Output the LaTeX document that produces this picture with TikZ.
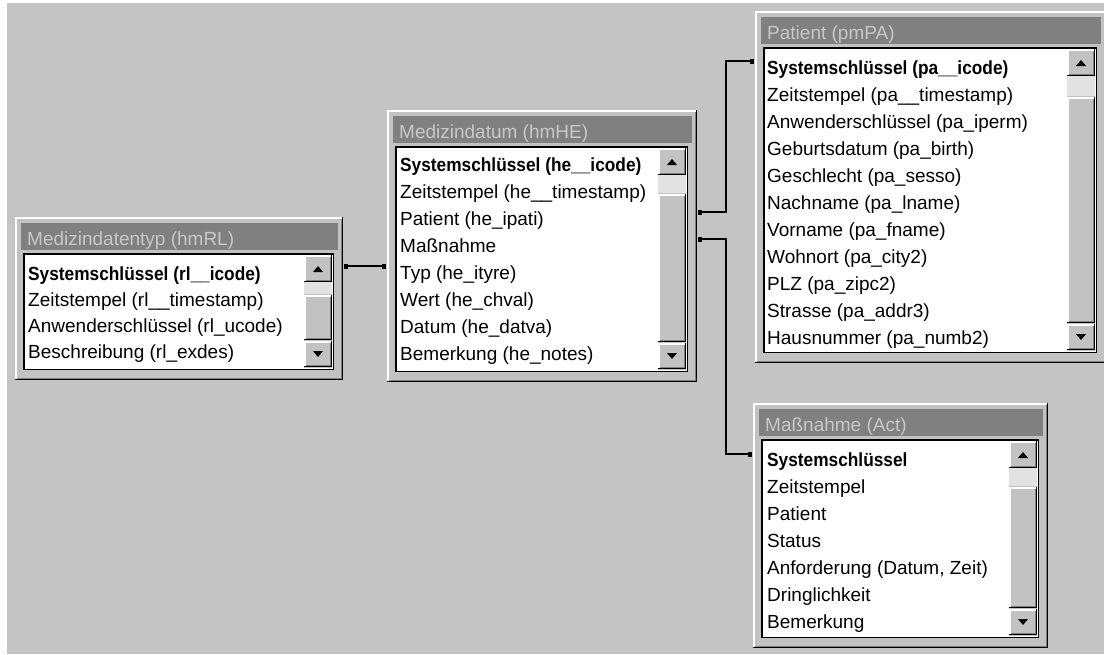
\documentclass[tikz,border=0pt]{standalone}
\usepackage{fontspec}
\usepackage{graphicx}
\setmainfont{Liberation Sans}
\usetikzlibrary{arrows.meta}
\definecolor{bg}{RGB}{196,196,196}
\definecolor{face}{RGB}{194,194,194}
\definecolor{tbar}{RGB}{128,128,128}
\definecolor{ttext}{RGB}{200,200,200}
\definecolor{chk}{RGB}{226,226,226}
\definecolor{dark}{RGB}{128,128,128}
\tikzset{
  titletext/.style={font=\fontsize{19}{22}\selectfont, text=ttext, inner sep=0pt, anchor=base west},
  rowtext/.style={font=\fontsize{19}{22}\selectfont, text=black, inner sep=0pt, anchor=base west},
  rel/.style={line width=2pt, {Square[length=4pt,width=5pt]}-{Square[length=4pt,width=5pt]}}
}
\newcommand\raisedbox[4]{%
  \fill[face] (#1,#2) rectangle (#3,#4);
  \draw[white,line width=1.5pt] (#1+0.75,#4-1.5) -- (#1+0.75,#2+0.75) -- (#3-1.5,#2+0.75);
  \draw[black,line width=1.5pt] (#1,#4-0.75) -- (#3-0.75,#4-0.75) -- (#3-0.75,#2);
  \draw[dark,line width=1pt] (#1+1.5,#4-2) -- (#3-2,#4-2) -- (#3-2,#2+1.5);
}
\newcommand\accwin[7]{%
  \raisedbox{#1}{#2}{#3}{#4}
  \fill[tbar] (#1+6,#2+6) rectangle (#3-5,#2+33);
  \node[titletext] (#7) at (#1+12,#2+28) {#6};
  \fill[white] (#1+8,#2+36) rectangle (#3-9,#4-10);
  \draw[black,line width=1.5pt] (#1+8.75,#2+36.75) rectangle (#3-9.75,#4-10.75);
  \fill[face] (#3-39,#2+38) rectangle (#3-11,#4-12);
  \fill[chk] (#3-39,#2+65) rectangle (#3-11,#2+65+#5);
  \raisedbox{#3-39}{#2+38}{#3-11}{#2+65}
  \raisedbox{#3-39}{#2+66+#5}{#3-11}{#4-40}
  \raisedbox{#3-39}{#4-39}{#3-11}{#4-13}
  \fill[black] (#3-30,#2+55) -- (#3-20,#2+55) -- (#3-25,#2+49) -- cycle;
  \fill[black] (#3-30,#4-29) -- (#3-20,#4-29) -- (#3-25,#4-23) -- cycle;
}
\newcommand\boldrow[1]{\scalebox{0.91}[1]{\bfseries #1}}
\begin{document}
\begin{tikzpicture}[x=1pt,y=-1pt]
\useasboundingbox (0,0) rectangle (1104,654);
\fill[white] (0,0) rectangle (1104,654);
\fill[bg] (7,3) rectangle (1104,654);

% windows
\accwin{15}{217}{343}{380}{12}{Medizindatentyp (hmRL)}{rlT}
\accwin{387}{110}{697}{382}{18}{Medizindatum (hmHE)}{heT}
\accwin{755}{11}{1106}{363}{20}{Patient (pmPA)}{paT}
\accwin{753}{403}{1048}{648}{18}{Maßnahme (Act)}{acT}

% rows: Medizindatentyp
\node[rowtext] (rl1) at (28,280) {\boldrow{Systemschlüssel (rl\_\_icode)}};
\node[rowtext] (rl2) at (28,306) {Zeitstempel (rl\_\_timestamp)};
\node[rowtext] (rl3) at (28,332) {Anwenderschlüssel (rl\_ucode)};
\node[rowtext] (rl4) at (28,358) {Beschreibung (rl\_exdes)};

% rows: Medizindatum
\node[rowtext] (he1) at (400,171) {\boldrow{Systemschlüssel (he\_\_icode)}};
\foreach \t [count=\i from 2] in {Zeitstempel (he\_\_timestamp),Patient (he\_ipati),Maßnahme,Typ (he\_ityre),Wert (he\_chval),Datum (he\_datva),Bemerkung (he\_notes)}
  \node[rowtext] (he\i) at (400,144+27*\i) {\t};

% rows: Patient
\node[rowtext] (pa1) at (767,74) {\boldrow{Systemschlüssel (pa\_\_icode)}};
\foreach \t [count=\i from 2] in {Zeitstempel (pa\_\_timestamp),Anwenderschlüssel (pa\_iperm),Geburtsdatum (pa\_birth),Geschlecht (pa\_sesso),Nachname (pa\_lname),Vorname (pa\_fname),Wohnort (pa\_city2),PLZ (pa\_zipc2),Strasse (pa\_addr3),Hausnummer (pa\_numb2)}
  \node[rowtext] (pa\i) at (767,47+27*\i) {\t};

% rows: Massnahme
\node[rowtext] (ac1) at (767,466) {\boldrow{Systemschlüssel}};
\foreach \t [count=\i from 2] in {Zeitstempel,Patient,Status,{Anforderung (Datum, Zeit)},Dringlichkeit,Bemerkung}
  \node[rowtext] (ac\i) at (767,439+27*\i) {\t};

% connectors
\coordinate (rlE) at (344,266);
\coordinate (heW) at (386,266);
\coordinate (heE1) at (698,212);
\coordinate (heE2) at (698,239);
\coordinate (paW) at (754,61);
\coordinate (acW) at (752,454);
\draw[rel] (rlE) -- (heW);
\draw[rel] (heE1) -- ++(28,0) |- (paW);
\draw[rel] (heE2) -- ++(28,0) |- (acW);
\end{tikzpicture}
\end{document}
